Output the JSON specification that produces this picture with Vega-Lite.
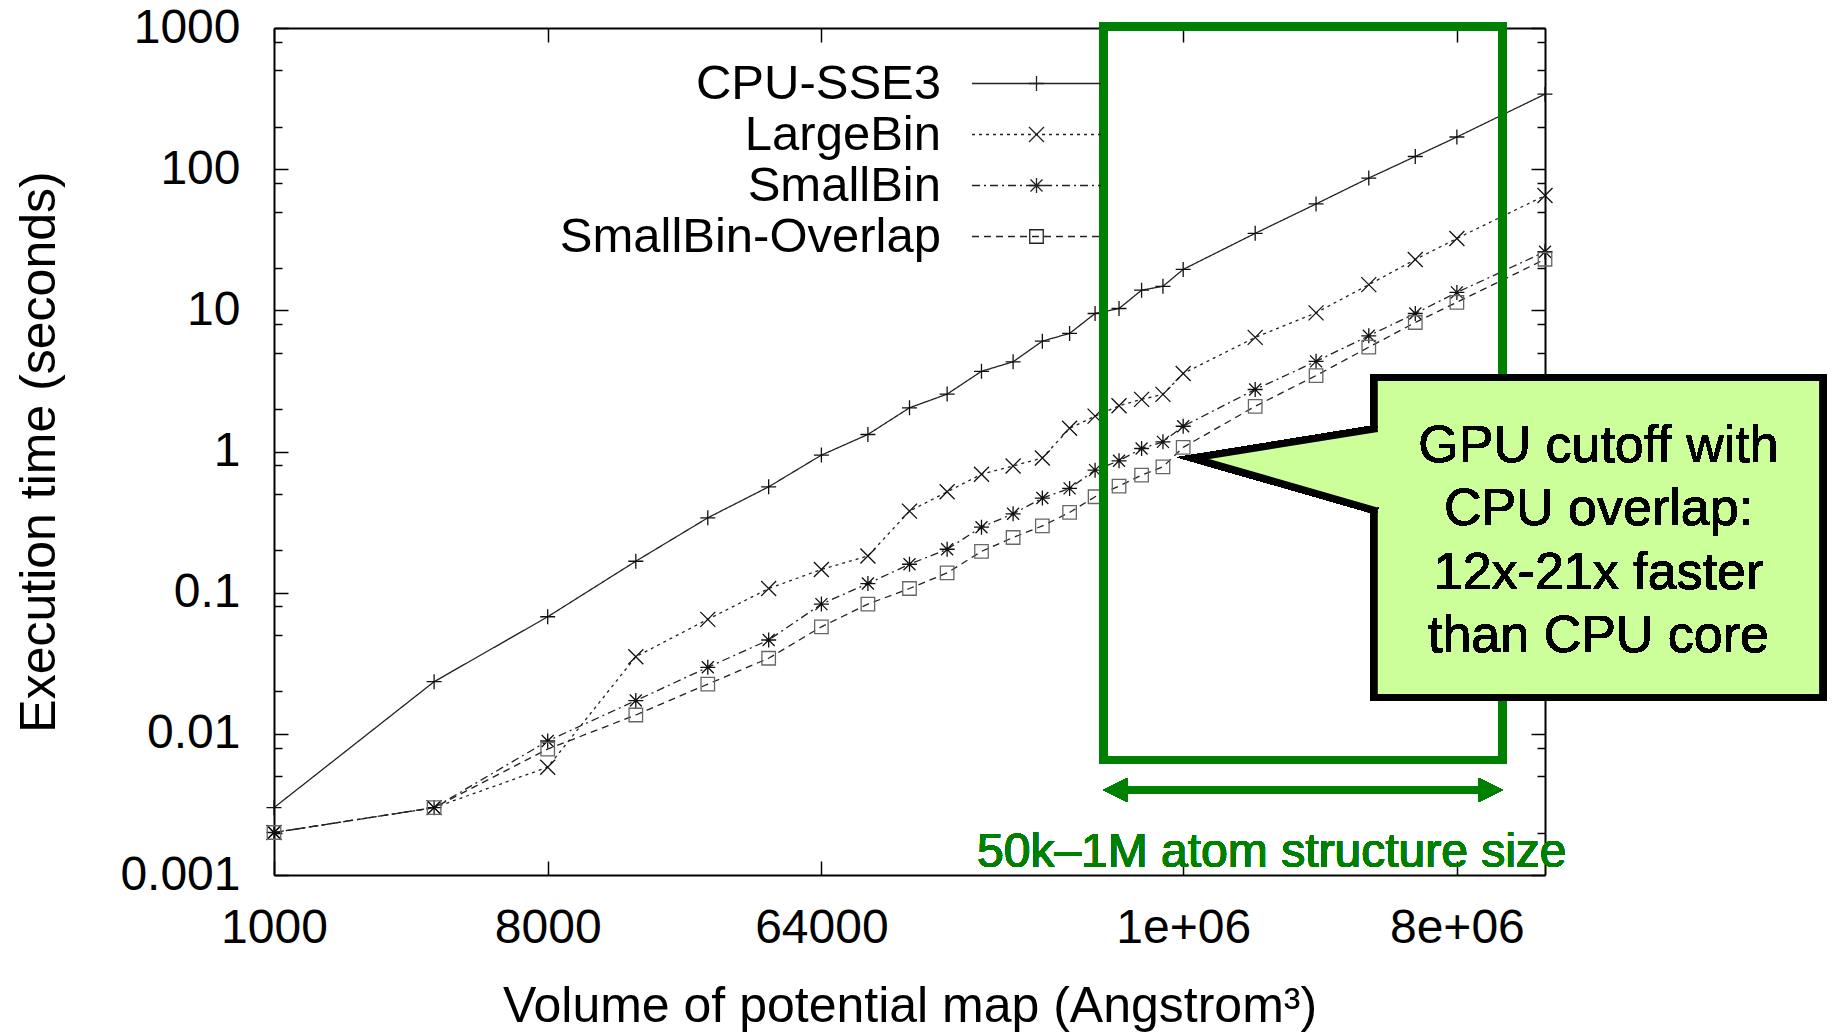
{
  "$schema": "https://vega.github.io/schema/vega-lite/v6.json",
  "width": 1271,
  "height": 847,
  "autosize": {"type": "none"},
  "padding": {"left": 274, "top": 28, "right": 290, "bottom": 159},
  "background": "white",
  "config": {
    "view": {"stroke": null},
    "font": "Liberation Sans",
    "axis": {"grid": false, "labelFont": "Liberation Sans", "titleFont": "Liberation Sans"},
    "legend": {"labelFont": "Liberation Sans"}
  },
  "data": {
    "values": [
      {"volume": 1000, "series": "CPU-SSE3", "time": 0.003},
      {"volume": 3375, "series": "CPU-SSE3", "time": 0.0234},
      {"volume": 8000, "series": "CPU-SSE3", "time": 0.0675},
      {"volume": 15625, "series": "CPU-SSE3", "time": 0.167},
      {"volume": 27000, "series": "CPU-SSE3", "time": 0.339},
      {"volume": 42875, "series": "CPU-SSE3", "time": 0.562},
      {"volume": 64000, "series": "CPU-SSE3", "time": 0.943},
      {"volume": 91125, "series": "CPU-SSE3", "time": 1.32},
      {"volume": 125000, "series": "CPU-SSE3", "time": 2.04},
      {"volume": 166375, "series": "CPU-SSE3", "time": 2.55},
      {"volume": 216000, "series": "CPU-SSE3", "time": 3.7},
      {"volume": 274625, "series": "CPU-SSE3", "time": 4.32},
      {"volume": 343000, "series": "CPU-SSE3", "time": 6.05},
      {"volume": 421875, "series": "CPU-SSE3", "time": 6.86},
      {"volume": 512000, "series": "CPU-SSE3", "time": 9.5},
      {"volume": 614125, "series": "CPU-SSE3", "time": 10.3},
      {"volume": 729000, "series": "CPU-SSE3", "time": 13.9},
      {"volume": 857375, "series": "CPU-SSE3", "time": 14.8},
      {"volume": 1000000, "series": "CPU-SSE3", "time": 19.5},
      {"volume": 1728000, "series": "CPU-SSE3", "time": 35.1},
      {"volume": 2744000, "series": "CPU-SSE3", "time": 56.7},
      {"volume": 4096000, "series": "CPU-SSE3", "time": 86.5},
      {"volume": 5832000, "series": "CPU-SSE3", "time": 123},
      {"volume": 8000000, "series": "CPU-SSE3", "time": 169},
      {"volume": 15625000, "series": "CPU-SSE3", "time": 340},

      {"volume": 1000, "series": "LargeBin", "time": 0.002},
      {"volume": 3375, "series": "LargeBin", "time": 0.003},
      {"volume": 8000, "series": "LargeBin", "time": 0.0058},
      {"volume": 15625, "series": "LargeBin", "time": 0.0352},
      {"volume": 27000, "series": "LargeBin", "time": 0.0647},
      {"volume": 42875, "series": "LargeBin", "time": 0.107},
      {"volume": 64000, "series": "LargeBin", "time": 0.146},
      {"volume": 91125, "series": "LargeBin", "time": 0.182},
      {"volume": 125000, "series": "LargeBin", "time": 0.378},
      {"volume": 166375, "series": "LargeBin", "time": 0.518},
      {"volume": 216000, "series": "LargeBin", "time": 0.69},
      {"volume": 274625, "series": "LargeBin", "time": 0.79},
      {"volume": 343000, "series": "LargeBin", "time": 0.9},
      {"volume": 421875, "series": "LargeBin", "time": 1.46},
      {"volume": 512000, "series": "LargeBin", "time": 1.78},
      {"volume": 614125, "series": "LargeBin", "time": 2.11},
      {"volume": 729000, "series": "LargeBin", "time": 2.34},
      {"volume": 857375, "series": "LargeBin", "time": 2.54},
      {"volume": 1000000, "series": "LargeBin", "time": 3.57},
      {"volume": 1728000, "series": "LargeBin", "time": 6.43},
      {"volume": 2744000, "series": "LargeBin", "time": 9.6},
      {"volume": 4096000, "series": "LargeBin", "time": 15.2},
      {"volume": 5832000, "series": "LargeBin", "time": 22.9},
      {"volume": 8000000, "series": "LargeBin", "time": 32.3},
      {"volume": 15625000, "series": "LargeBin", "time": 65},

      {"volume": 1000, "series": "SmallBin", "time": 0.002},
      {"volume": 3375, "series": "SmallBin", "time": 0.003},
      {"volume": 8000, "series": "SmallBin", "time": 0.0089},
      {"volume": 15625, "series": "SmallBin", "time": 0.0172},
      {"volume": 27000, "series": "SmallBin", "time": 0.0296},
      {"volume": 42875, "series": "SmallBin", "time": 0.0462},
      {"volume": 64000, "series": "SmallBin", "time": 0.083},
      {"volume": 91125, "series": "SmallBin", "time": 0.116},
      {"volume": 125000, "series": "SmallBin", "time": 0.159},
      {"volume": 166375, "series": "SmallBin", "time": 0.203},
      {"volume": 216000, "series": "SmallBin", "time": 0.291},
      {"volume": 274625, "series": "SmallBin", "time": 0.362},
      {"volume": 343000, "series": "SmallBin", "time": 0.468},
      {"volume": 421875, "series": "SmallBin", "time": 0.548},
      {"volume": 512000, "series": "SmallBin", "time": 0.738},
      {"volume": 614125, "series": "SmallBin", "time": 0.859},
      {"volume": 729000, "series": "SmallBin", "time": 1.05},
      {"volume": 857375, "series": "SmallBin", "time": 1.17},
      {"volume": 1000000, "series": "SmallBin", "time": 1.51},
      {"volume": 1728000, "series": "SmallBin", "time": 2.75},
      {"volume": 2744000, "series": "SmallBin", "time": 4.35},
      {"volume": 4096000, "series": "SmallBin", "time": 6.6},
      {"volume": 5832000, "series": "SmallBin", "time": 9.5},
      {"volume": 8000000, "series": "SmallBin", "time": 13.4},
      {"volume": 15625000, "series": "SmallBin", "time": 26},

      {"volume": 1000, "series": "SmallBin-Overlap", "time": 0.002},
      {"volume": 3375, "series": "SmallBin-Overlap", "time": 0.003},
      {"volume": 8000, "series": "SmallBin-Overlap", "time": 0.0078},
      {"volume": 15625, "series": "SmallBin-Overlap", "time": 0.0136},
      {"volume": 27000, "series": "SmallBin-Overlap", "time": 0.0225},
      {"volume": 42875, "series": "SmallBin-Overlap", "time": 0.0343},
      {"volume": 64000, "series": "SmallBin-Overlap", "time": 0.0573},
      {"volume": 91125, "series": "SmallBin-Overlap", "time": 0.083},
      {"volume": 125000, "series": "SmallBin-Overlap", "time": 0.107},
      {"volume": 166375, "series": "SmallBin-Overlap", "time": 0.138},
      {"volume": 216000, "series": "SmallBin-Overlap", "time": 0.196},
      {"volume": 274625, "series": "SmallBin-Overlap", "time": 0.246},
      {"volume": 343000, "series": "SmallBin-Overlap", "time": 0.297},
      {"volume": 421875, "series": "SmallBin-Overlap", "time": 0.37},
      {"volume": 512000, "series": "SmallBin-Overlap", "time": 0.478},
      {"volume": 614125, "series": "SmallBin-Overlap", "time": 0.569},
      {"volume": 729000, "series": "SmallBin-Overlap", "time": 0.68},
      {"volume": 857375, "series": "SmallBin-Overlap", "time": 0.779},
      {"volume": 1000000, "series": "SmallBin-Overlap", "time": 1.07},
      {"volume": 1728000, "series": "SmallBin-Overlap", "time": 2.09},
      {"volume": 2744000, "series": "SmallBin-Overlap", "time": 3.45},
      {"volume": 4096000, "series": "SmallBin-Overlap", "time": 5.48},
      {"volume": 5832000, "series": "SmallBin-Overlap", "time": 8.2},
      {"volume": 8000000, "series": "SmallBin-Overlap", "time": 11.4},
      {"volume": 15625000, "series": "SmallBin-Overlap", "time": 23}
    ]
  },
  "resolve": {"axis": {"x": "independent", "y": "independent"}},
  "layer": [
    {
      "mark": {"type": "line", "strokeWidth": 1.3, "color": "#222"},
      "encoding": {
        "x": {
          "field": "volume", "type": "quantitative",
          "scale": {"type": "log", "domain": [1000, 15625000], "nice": false},
          "axis": {
            "orient": "bottom", "values": [1000, 8000, 64000, 1000000, 8000000],
            "labelExpr": "datum.value == 1000000 ? '1e+06' : datum.value == 8000000 ? '8e+06' : format(datum.value, 'd')",
            "ticks": false, "domain": true, "domainColor": "black", "domainWidth": 2,
            "labelFontSize": 48, "labelColor": "black", "labelPadding": 29,
            "labelFlush": false, "labelOverlap": false,
            "title": "Volume of potential map (Angstrom³)", "titleFontSize": 50,
            "titleFontWeight": "normal", "titleColor": "black", "titlePadding": 29
          }
        },
        "y": {
          "field": "time", "type": "quantitative",
          "scale": {"type": "log", "domain": [0.001, 1000], "nice": false},
          "axis": {
            "orient": "left", "values": [0.001, 0.01, 0.1, 1, 10, 100, 1000],
            "labelExpr": "format(datum.value, '~g')",
            "ticks": false, "domain": true, "domainColor": "black", "domainWidth": 2,
            "labelFontSize": 48, "labelColor": "black", "labelPadding": 34,
            "labelFlush": false, "labelOverlap": false,
            "title": "Execution time (seconds)", "titleFontSize": 50,
            "titleFontWeight": "normal", "titleColor": "black", "titlePadding": 55
          }
        },
        "strokeDash": {
          "field": "series", "type": "nominal",
          "scale": {
            "domain": ["CPU-SSE3", "LargeBin", "SmallBin", "SmallBin-Overlap"],
            "range": [[1, 0], [3, 4], [8, 4, 2, 4], [7, 5]]
          },
          "legend": {
            "orient": "none", "legendX": 738, "legendY": 31, "direction": "vertical",
            "title": null, "symbolType": "M-8,0H8", "symbolSize": 260,
            "symbolStrokeWidth": 1.3, "symbolStrokeColor": "#222", "symbolFillColor": "transparent",
            "labelFontSize": 49, "labelColor": "black", "labelAlign": "right",
            "labelOffset": -120, "labelLimit": 1000, "rowPadding": 1, "padding": 0
          }
        }
      }
    },
    {
      "mark": {"type": "point", "filled": false, "strokeWidth": 1.3, "size": 225, "opacity": 1},
      "encoding": {
        "x": {
          "field": "volume", "type": "quantitative",
          "scale": {"type": "log", "domain": [1000, 15625000], "nice": false},
          "axis": {
            "orient": "bottom", "values": [1000, 8000, 64000, 1000000, 8000000],
            "labels": false, "ticks": true, "tickSize": -14, "tickColor": "black", "tickWidth": 1.5,
            "domain": false, "title": null
          }
        },
        "y": {
          "field": "time", "type": "quantitative",
          "scale": {"type": "log", "domain": [0.001, 1000], "nice": false},
          "axis": {
            "orient": "left",
            "values": [0.001, 0.002, 0.005, 0.008, 0.01, 0.02, 0.05, 0.08, 0.1, 0.2, 0.5, 0.8, 1, 2, 5, 8, 10, 20, 50, 80, 100, 200, 500, 800, 1000],
            "labels": false, "ticks": true,
            "tickSize": {"condition": {"test": "abs(log(datum.value)/LN10 - round(log(datum.value)/LN10)) < 0.001", "value": -14}, "value": -8},
            "tickColor": "black", "tickWidth": 1.5, "domain": false, "title": null
          }
        },
        "shape": {
          "field": "series", "type": "nominal",
          "scale": {
            "range": [
              "M-1,0H1M0,-1V1",
              "M-1,-1L1,1M-1,1L1,-1",
              "M-1,0H1M0,-1V1M-0.8,-0.8L0.8,0.8M-0.8,0.8L0.8,-0.8",
              "M-0.9,-0.9H0.9V0.9H-0.9Z"
            ]
          },
          "legend": {
            "orient": "none", "legendX": 738, "legendY": 31, "direction": "vertical",
            "title": null, "symbolSize": 225, "symbolStrokeWidth": 1.3,
            "symbolStrokeColor": "#222", "symbolFillColor": "transparent",
            "labelFontSize": 49, "labelColor": "transparent", "labelLimit": 1000,
            "rowPadding": 1, "padding": 0
          }
        },
        "color": {"condition": {"test": "datum.series === 'SmallBin-Overlap'", "value": "#666"}, "value": "#111"}
      }
    },
    {
      "mark": {"type": "rect", "fill": "white", "fillOpacity": 0, "stroke": "#008000", "strokeWidth": 8},
      "encoding": {
        "x": {
          "datum": 544000, "type": "quantitative",
          "scale": {"type": "log", "domain": [1000, 15625000], "nice": false},
          "axis": {
            "orient": "top", "values": [1000, 8000, 64000, 1000000, 8000000],
            "labels": false, "ticks": true, "tickSize": -14, "tickColor": "black", "tickWidth": 1.5,
            "domain": true, "domainColor": "black", "domainWidth": 2, "title": null
          }
        },
        "x2": {"datum": 11330000},
        "y": {
          "datum": 1030, "type": "quantitative",
          "scale": {"type": "log", "domain": [0.001, 1000], "nice": false},
          "axis": {
            "orient": "right",
            "values": [0.001, 0.002, 0.005, 0.008, 0.01, 0.02, 0.05, 0.08, 0.1, 0.2, 0.5, 0.8, 1, 2, 5, 8, 10, 20, 50, 80, 100, 200, 500, 800, 1000],
            "labels": false, "ticks": true,
            "tickSize": {"condition": {"test": "abs(log(datum.value)/LN10 - round(log(datum.value)/LN10)) < 0.001", "value": -14}, "value": -8},
            "tickColor": "black", "tickWidth": 1.5,
            "domain": true, "domainColor": "black", "domainWidth": 2, "title": null
          }
        },
        "y2": {"datum": 0.00652}
      }
    },
    {
      "mark": {"type": "rule", "stroke": "#008000", "strokeWidth": 7},
      "encoding": {
        "x": {"datum": 596000, "type": "quantitative", "scale": {"type": "log", "domain": [1000, 15625000], "nice": false}, "axis": null},
        "x2": {"datum": 10330000},
        "y": {"datum": 0.004, "type": "quantitative", "scale": {"type": "log", "domain": [0.001, 1000], "nice": false}, "axis": null}
      }
    },
    {
      "mark": {"type": "point", "filled": true, "shape": "M0,0L2,-1L2,1Z", "size": 576, "color": "#008000", "opacity": 1, "strokeWidth": 0},
      "encoding": {
        "x": {"datum": 544000, "type": "quantitative", "scale": {"type": "log", "domain": [1000, 15625000], "nice": false}, "axis": null},
        "y": {"datum": 0.004, "type": "quantitative", "scale": {"type": "log", "domain": [0.001, 1000], "nice": false}, "axis": null}
      }
    },
    {
      "mark": {"type": "point", "filled": true, "shape": "M0,0L-2,-1L-2,1Z", "size": 576, "color": "#008000", "opacity": 1, "strokeWidth": 0},
      "encoding": {
        "x": {"datum": 11330000, "type": "quantitative", "scale": {"type": "log", "domain": [1000, 15625000], "nice": false}, "axis": null},
        "y": {"datum": 0.004, "type": "quantitative", "scale": {"type": "log", "domain": [0.001, 1000], "nice": false}, "axis": null}
      }
    },
    {
      "mark": {"type": "text", "text": "50k–1M atom structure size", "color": "#008000", "fontSize": 48, "font": "Liberation Sans", "align": "center", "baseline": "alphabetic"},
      "encoding": {
        "x": {"datum": 1960000, "type": "quantitative", "scale": {"type": "log", "domain": [1000, 15625000], "nice": false}, "axis": null},
        "y": {"datum": 0.001145, "type": "quantitative", "scale": {"type": "log", "domain": [0.001, 1000], "nice": false}, "axis": null}
      }
    },
    {
      "mark": {"type": "rect", "fill": "#ccff99", "stroke": "black", "strokeWidth": 7},
      "encoding": {
        "x": {"datum": 4270000, "type": "quantitative", "scale": {"type": "log", "domain": [1000, 15625000], "nice": false}, "axis": null},
        "x2": {"datum": 128800000},
        "y": {"datum": 3.34, "type": "quantitative", "scale": {"type": "log", "domain": [0.001, 1000], "nice": false}, "axis": null},
        "y2": {"datum": 0.0181}
      }
    },
    {
      "mark": {"type": "point", "filled": true, "shape": "M184,-29.6L0,0L184,53", "size": 4, "fill": "#ccff99", "stroke": "black", "strokeWidth": 7, "strokeJoin": "miter", "strokeMiterLimit": 20, "opacity": 1},
      "encoding": {
        "x": {"datum": 1080000, "type": "quantitative", "scale": {"type": "log", "domain": [1000, 15625000], "nice": false}, "axis": null},
        "y": {"datum": 0.898, "type": "quantitative", "scale": {"type": "log", "domain": [0.001, 1000], "nice": false}, "axis": null}
      }
    },
    {
      "mark": {"type": "text", "text": ["GPU cutoff with", "CPU overlap:", "12x-21x faster", "than CPU core"], "color": "black", "fontSize": 52, "lineHeight": 63.5, "font": "Liberation Sans", "align": "center", "baseline": "alphabetic"},
      "encoding": {
        "x": {"datum": 23460000, "type": "quantitative", "scale": {"type": "log", "domain": [1000, 15625000], "nice": false}, "axis": null},
        "y": {"datum": 0.8468, "type": "quantitative", "scale": {"type": "log", "domain": [0.001, 1000], "nice": false}, "axis": null}
      }
    }
  ]
}
